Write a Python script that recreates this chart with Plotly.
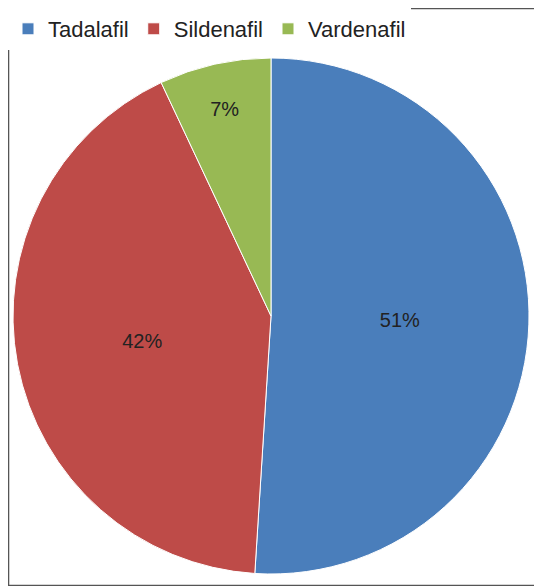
import plotly.graph_objects as go

drugs = ["Tadalafil", "Sildenafil", "Vardenafil"]
shares = [51, 42, 7]
colors = ["#4A7EBB", "#BE4B48", "#98B954"]

# the page body adds an 8px offset, so the figure is drawn 8px smaller
W, H = 534, 578

fig = go.Figure(go.Pie(
    labels=drugs,
    values=shares,
    sort=False,
    direction="clockwise",
    rotation=0,
    marker=dict(colors=colors, line=dict(color="white", width=1)),
    texttemplate="%{value}%",
    textposition="inside",
    insidetextorientation="horizontal",
    textfont=dict(family="Liberation Sans, Arial", size=20, color="#222222"),
    domain=dict(x=[5 / W, 521 / W], y=[12 / H, 528 / H]),
))

fig.update_layout(
    width=W, height=H,
    margin=dict(l=0, r=0, t=0, b=0),
    paper_bgcolor="white",
    showlegend=True,
    legend=dict(
        orientation="h", x=0.0, y=1.0, xanchor="left", yanchor="top",
        font=dict(family="Liberation Sans, Arial", size=22, color="#222222"),
        traceorder="normal",
    ),
    shapes=[dict(type="rect", xref="paper", yref="paper", x0=0.001, y0=0.001,
                 x1=0.999, y1=0.999, line=dict(color="#555555", width=1.5))],
)

fig.write_html("out.html")
